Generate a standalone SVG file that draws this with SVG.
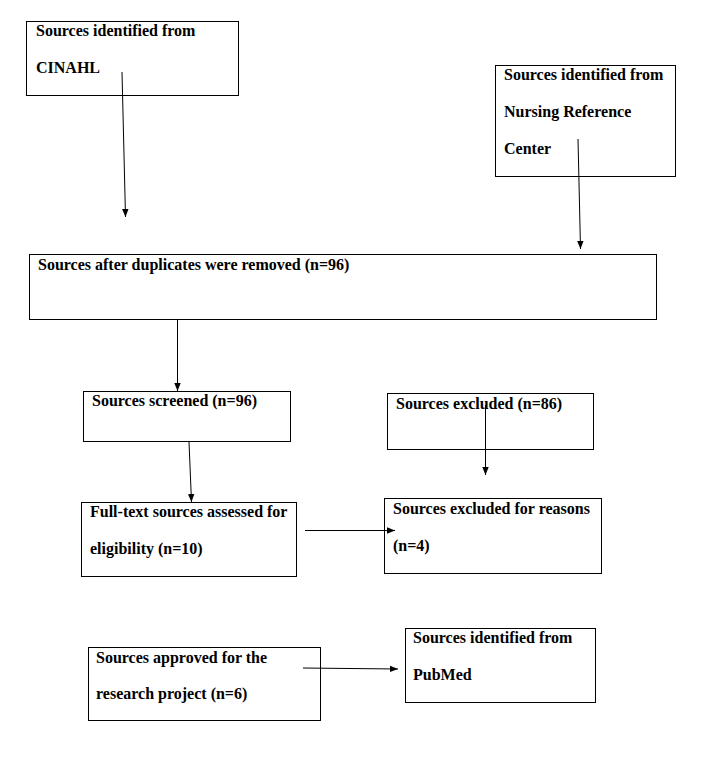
<svg xmlns="http://www.w3.org/2000/svg" width="705" height="762" viewBox="0 0 705 762">
<style>
.box{fill:#fff;stroke:#000;stroke-width:1}
.t{font-family:"Liberation Serif","Times New Roman",serif;font-weight:bold;font-size:16px;fill:#000}
.c{stroke:#000;stroke-width:1;fill:none;marker-end:url(#ah)}
</style>
<defs>
<marker id="ah" viewBox="0 0 10 10" refX="10" refY="5" markerWidth="8" markerHeight="8" markerUnits="userSpaceOnUse" orient="auto">
<path d="M0,1 L10,5 L0,9 Z" fill="#000"/>
</marker>
</defs>
<rect width="705" height="762" fill="#fff"/>
<g id="n1"><rect class="box" x="26.500" y="21.500" width="212" height="74"/>
<text class="t" x="36" y="36">Sources identified from</text>
<text class="t" x="36" y="73">CINAHL</text></g>
<g id="n2"><rect class="box" x="495.500" y="65.500" width="180" height="111"/>
<text class="t" x="504" y="80">Sources identified from</text>
<text class="t" x="504" y="117">Nursing Reference</text>
<text class="t" x="504" y="154">Center</text></g>
<g id="n3"><rect class="box" x="29.500" y="254.500" width="627" height="65"/>
<text class="t" x="38" y="270">Sources after duplicates were removed (n=96)</text></g>
<g id="n4"><rect class="box" x="83.500" y="391.500" width="207" height="50"/>
<text class="t" x="92" y="406">Sources screened (n=96)</text></g>
<g id="n5"><rect class="box" x="387.500" y="393.500" width="206" height="56"/>
<text class="t" x="396" y="409">Sources excluded (n=86)</text></g>
<g id="n6"><rect class="box" x="81.500" y="502.500" width="215" height="74"/>
<text class="t" x="90" y="517">Full-text sources assessed for</text>
<text class="t" x="90" y="554">eligibility  (n=10)</text></g>
<g id="n7"><rect class="box" x="384.500" y="498.500" width="217" height="75"/>
<text class="t" x="393" y="514">Sources excluded for reasons</text>
<text class="t" x="393" y="551">(n=4)</text></g>
<g id="n8"><rect class="box" x="88.500" y="647.500" width="232" height="73"/>
<text class="t" x="96" y="663">Sources approved for the</text>
<text class="t" x="96" y="699">research project (n=6)</text></g>
<g id="n9"><rect class="box" x="405.500" y="628.500" width="190" height="74"/>
<text class="t" x="413" y="643">Sources identified from</text>
<text class="t" x="413" y="680">PubMed</text></g>
<g id="connectors">
<line class="c" x1="122" y1="72" x2="125.500" y2="217"/>
<line class="c" x1="578" y1="139" x2="580.500" y2="249"/>
<line class="c" x1="177.500" y1="320" x2="177.500" y2="391"/>
<line class="c" x1="189" y1="442" x2="191.500" y2="502"/>
<line class="c" x1="485.500" y1="405" x2="485.500" y2="475"/>
<line class="c" x1="305" y1="530.500" x2="395" y2="530.500"/>
<line class="c" x1="303" y1="668" x2="398" y2="669"/>
</g>
</svg>
